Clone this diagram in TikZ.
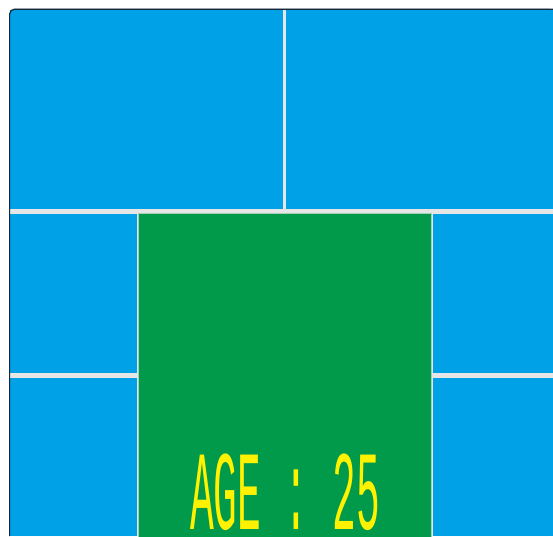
\documentclass[tikz,border=0pt]{standalone}
\usepackage{fontspec}
\newfontfamily\segfont{Liberation Mono}
\definecolor{panelblue}{RGB}{0,161,231}
\definecolor{panelgreen}{RGB}{0,154,74}
\definecolor{gapgray}{RGB}{230,230,230}
\definecolor{segyellow}{RGB}{255,242,0}
\definecolor{framedark}{RGB}{20,40,60}
\tikzset{
  bluepanel/.style={fill=panelblue, draw=none},
  greenpanel/.style={fill=panelgreen, draw=gapgray!70!panelgreen, line width=0.6pt},
}
\begin{document}
\begin{tikzpicture}[x=1pt,y=-1pt]
\useasboundingbox (0,0) rectangle (553,536);
\fill[white] (0,0) rectangle (553,536);
% gap colour under the panels
\fill[gapgray, rounded corners=5pt] (9,536) -- (9,8) -- (553,8) -- (553,536) -- cycle;
% top row
\fill[bluepanel] (9.5,9.5) rectangle (283,209);
\fill[bluepanel] (286,9.5) rectangle (553,209);
% middle-left column
\fill[bluepanel] (9.5,213.5) rectangle (136.7,372.5);
\fill[bluepanel] (9.5,377.5) rectangle (136.7,536);
% right column
\fill[bluepanel] (433.3,213.5) rectangle (553,372.5);
\fill[bluepanel] (433.3,377.5) rectangle (553,536);
% centre green panel
\draw[greenpanel] (138,213.5) rectangle (431.3,537);
% dark frame on top and left
\draw[framedark, line width=1.2pt, rounded corners=5pt] (9.6,536) -- (9.6,9.2) -- (553,9.2);
% readout
\node[text=segyellow, inner sep=0pt, anchor=south] (age) at (285,530)
  {\raisebox{0pt}[\height][0pt]{\scalebox{0.35}[1]{\fontsize{113}{113}\segfont AGE : 25}}};
\end{tikzpicture}
\end{document}
